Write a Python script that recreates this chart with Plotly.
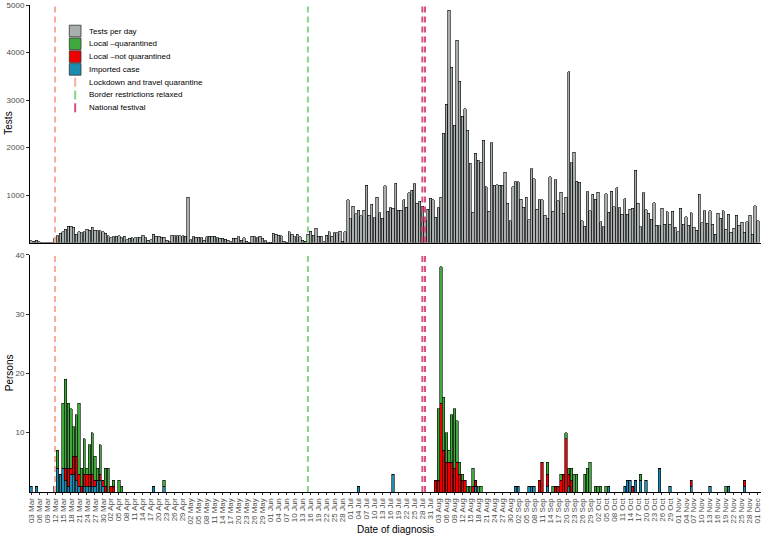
import plotly.graph_objects as go
import pandas as pd

# ---------------- data ----------------
START = "2020-03-03"
tests_per_day = [
    40, 25, 45, 15, 0, 0, 0, 0, 0, 100,
    137, 193, 228, 277, 347, 340, 318, 172, 228, 207,
    228, 277, 263, 318, 263, 250, 243, 228, 200, 143,
    101, 122, 136, 143, 101, 136, 60, 90, 101, 101,
    101, 108, 157, 101, 46, 60, 170, 136, 136, 108,
    108, 52, 20, 157, 143, 143, 143, 143, 130, 950,
    60, 122, 108, 108, 101, 52, 122, 136, 130, 136,
    101, 87, 87, 73, 45, 17, 87, 87, 122, 52,
    101, 31, 10, 136, 122, 101, 136, 87, 38, 5,
    5, 193, 172, 157, 143, 31, 10, 228, 172, 122,
    172, 122, 52, 31, 170, 240, 157, 298, 136, 136,
    20, 157, 228, 136, 207, 207, 240, 31, 228, 895,
    495, 768, 610, 684, 560, 684, 1210, 578, 810, 523,
    950, 627, 510, 1196, 663, 733, 719, 1245, 684, 684,
    895, 741, 1048, 1105, 1238, 825, 867, 768, 474, 699,
    930, 895, 530, 733, 958, 2298, 2909, 4894, 3688, 2473,
    4263, 3400, 2663, 2817, 2368, 1667, 636, 1877, 1730, 1688,
    2151, 1175, 663, 2101, 1210, 1215, 1210, 1210, 1477, 825,
    459, 1175, 1280, 1280, 909, 741, 951, 474, 1554, 1337,
    699, 895, 895, 579, 509, 1386, 663, 1316, 880, 1056,
    614, 951, 3596, 1680, 1898, 1294, 1266, 460, 347, 1070,
    670, 1014, 909, 1063, 439, 333, 1028, 635, 1084, 754,
    1155, 733, 593, 923, 600, 705, 719, 1519, 825, 333,
    1049, 691, 614, 488, 838, 361, 354, 719, 382, 649,
    382, 656, 319, 228, 719, 382, 544, 368, 628, 319,
    263, 1021, 418, 670, 403, 670, 389, 172, 614, 509,
    670, 277, 600, 221, 298, 579, 368, 425, 214, 439,
    579, 179, 775, 460,
]

imported_case = {
    "2020-03-03": 1, "2020-03-05": 1, "2020-03-12": 1, "2020-03-13": 4,
    "2020-03-14": 3, "2020-03-15": 4, "2020-03-16": 2, "2020-03-17": 1,
    "2020-03-18": 3, "2020-03-19": 3, "2020-03-20": 2, "2020-03-21": 1,
    "2020-03-23": 1, "2020-03-24": 1, "2020-03-25": 1, "2020-03-26": 1,
    "2020-03-27": 1, "2020-03-28": 2, "2020-03-29": 2, "2020-03-30": 1,
    "2020-04-18": 1, "2020-04-22": 1, "2020-07-04": 1, "2020-07-17": 3,
    "2020-08-17": 1, "2020-09-01": 1, "2020-09-02": 1, "2020-09-06": 1,
    "2020-09-07": 1, "2020-09-08": 1, "2020-09-13": 1, "2020-09-21": 1,
    "2020-10-06": 1, "2020-10-12": 1, "2020-10-13": 2, "2020-10-14": 2,
    "2020-10-16": 2, "2020-10-18": 2, "2020-10-20": 2, "2020-10-25": 4,
    "2020-10-29": 1, "2020-11-06": 1, "2020-11-13": 1, "2020-11-20": 1,
    "2020-11-26": 1,
}
local_not_quarantined = {
    "2020-03-16": 2, "2020-03-17": 3, "2020-03-18": 1, "2020-03-19": 3,
    "2020-03-20": 4, "2020-03-21": 2, "2020-03-22": 1, "2020-03-23": 2,
    "2020-03-24": 2, "2020-03-25": 2, "2020-03-26": 2, "2020-03-27": 1,
    "2020-03-29": 1, "2020-03-30": 1, "2020-03-31": 1, "2020-04-02": 1,
    "2020-04-03": 1, "2020-08-02": 2, "2020-08-03": 2, "2020-08-04": 15,
    "2020-08-05": 7, "2020-08-06": 5, "2020-08-07": 5, "2020-08-08": 5,
    "2020-08-09": 4, "2020-08-10": 5, "2020-08-11": 3, "2020-08-12": 2,
    "2020-08-13": 2, "2020-08-16": 1, "2020-08-17": 1, "2020-09-10": 2,
    "2020-09-11": 5, "2020-09-13": 2, "2020-09-16": 1, "2020-09-17": 1,
    "2020-09-18": 2, "2020-09-19": 3, "2020-09-20": 9, "2020-09-21": 2,
    "2020-09-22": 2, "2020-10-15": 1, "2020-11-06": 1, "2020-11-26": 1,
}
local_quarantined = {
    "2020-03-13": 3, "2020-03-15": 11, "2020-03-16": 15, "2020-03-17": 11,
    "2020-03-18": 10, "2020-03-19": 5, "2020-03-20": 7, "2020-03-21": 12,
    "2020-03-22": 3, "2020-03-23": 6, "2020-03-24": 1, "2020-03-25": 5,
    "2020-03-26": 7, "2020-03-27": 4, "2020-03-28": 2, "2020-03-29": 5,
    "2020-03-31": 3, "2020-04-01": 4, "2020-04-03": 1, "2020-04-05": 2,
    "2020-04-06": 1, "2020-04-22": 1, "2020-08-03": 12, "2020-08-04": 23,
    "2020-08-05": 9, "2020-08-06": 5, "2020-08-07": 2, "2020-08-08": 8,
    "2020-08-09": 10, "2020-08-10": 7, "2020-08-11": 2, "2020-08-12": 1,
    "2020-08-14": 1, "2020-08-15": 1, "2020-08-16": 3, "2020-08-18": 1,
    "2020-08-19": 1, "2020-09-13": 2, "2020-09-15": 1, "2020-09-18": 1,
    "2020-09-20": 1, "2020-09-21": 1, "2020-09-22": 2, "2020-09-23": 3,
    "2020-09-24": 3, "2020-09-27": 3, "2020-09-28": 4, "2020-09-29": 5,
    "2020-10-01": 1, "2020-10-02": 1, "2020-10-03": 1, "2020-10-05": 1,
    "2020-10-18": 1, "2020-11-19": 1,
}

events = {
    "Lockdown and travel quarantine": ["2020-03-12"],
    "Border restrictions relaxed": ["2020-06-15"],
    "National festival": ["2020-07-28", "2020-07-29"],
}
tests_ticks = [1000, 2000, 3000, 4000, 5000]
persons_ticks = [10, 20, 30, 40]

# ---------------- styling ----------------
W, H = 763, 540
ML, MR, MT, MB = 30, 2, 5, 48
PW, PH = W - ML - MR, H - MT - MB
FONT = "Liberation Sans, Arial, sans-serif"
GREY_TXT = "#4D4D4D"

C_TEST = "#A9AEAE"
C_QUAR = "#3FAA3B"
C_NOTQ = "#EE0000"
C_IMP = "#1C8DB2"
EVENT_COL = {
    "Lockdown and travel quarantine": "#F6AE99",
    "Border restrictions relaxed": "#86D486",
    "National festival": "#D5527A",
}

dates = pd.date_range(START, periods=len(tests_per_day), freq="D")
def expand(d):
    return [d.get(x.strftime("%Y-%m-%d"), 0) for x in dates]

def px_x(px):
    return (px - ML) / PW

def px_y(py):
    return (H - MB - py) / PH

fig = go.Figure()
outline = dict(color="black", width=0.6)
fig.add_trace(go.Bar(x=dates, y=tests_per_day, marker=dict(color=C_TEST, line=outline),
                     xaxis="x", yaxis="y", name="Tests per day", showlegend=False))
for name, series, col in [("Imported case", imported_case, C_IMP),
                          ("Local –not quarantined", local_not_quarantined, C_NOTQ),
                          ("Local –quarantined", local_quarantined, C_QUAR)]:
    fig.add_trace(go.Bar(x=dates, y=expand(series), marker=dict(color=col, line=outline),
                         xaxis="x2", yaxis="y2", name=name, showlegend=False))

start = pd.Timestamp(START)
xr = [start - pd.Timedelta(hours=0.39 * 24), start + pd.Timedelta(hours=274.2 * 24)]

top_bottom = px_y(242.5)
bot_top = px_y(254.7)

axis_common = dict(showline=True, linecolor="black", linewidth=1, showgrid=False, zeroline=False,
                   automargin=False,
                   tickfont=dict(family=FONT, size=8, color=GREY_TXT), tickcolor="#333333")
fig.update_layout(
    width=W, height=H, margin=dict(l=ML, r=MR, t=MT, b=MB, autoexpand=False),
    paper_bgcolor="white", plot_bgcolor="white",
    barmode="stack", bargap=0.1, showlegend=False,
    font=dict(family=FONT),
    xaxis=dict(axis_common, domain=[0, 1], anchor="y", range=xr, matches="x2",
               showticklabels=False, ticks=""),
    yaxis=dict(axis_common, domain=[top_bottom, 1], anchor="x", range=[0, 5000],
               tickvals=tests_ticks, ticks="outside", ticklen=3),
    xaxis2=dict(axis_common, domain=[0, 1], anchor="y2", range=xr, type="date",
                tick0=START, dtick=3 * 86400000, tickformat="%d %b", tickangle=-90,
                ticks="outside", ticklen=2),
    yaxis2=dict(axis_common, domain=[0, bot_top], anchor="x2", range=[0, 40],
                tickvals=persons_ticks, ticks="outside", ticklen=3),
)

shapes = []
for name, ds in events.items():
    for d in ds:
        for xref, yref in [("x", "y domain"), ("x2", "y2 domain")]:
            shapes.append(dict(type="line", xref=xref, yref=yref, x0=d, x1=d, y0=0, y1=1,
                               line=dict(color=EVENT_COL[name], width=2, dash="6px,4px"),
                               layer="above"))

# manual legend
legend_items = [("Tests per day", "box", C_TEST), ("Local –quarantined", "box", C_QUAR),
                ("Local –not quarantined", "box", C_NOTQ), ("Imported case", "box", C_IMP)]
legend_items += [(n, "line", EVENT_COL[n]) for n in events]
annotations = []
for i, (label, kind, col) in enumerate(legend_items):
    cy = 31.0 + 12.8 * i
    if kind == "box":
        shapes.append(dict(type="rect", xref="paper", yref="paper",
                           x0=px_x(69.3), x1=px_x(81), y0=px_y(cy + 5.8), y1=px_y(cy - 5.8),
                           fillcolor=col, line=dict(color="#333333", width=0.8)))
    else:
        shapes.append(dict(type="line", xref="paper", yref="paper",
                           x0=px_x(75.2), x1=px_x(75.2), y0=px_y(cy + 4.5), y1=px_y(cy - 4.5),
                           line=dict(color=col, width=2)))
    annotations.append(dict(xref="paper", yref="paper", x=px_x(87), y=px_y(cy), text=label,
                            showarrow=False, xanchor="left", yanchor="middle",
                            font=dict(family=FONT, size=8, color="black")))

title_font = dict(family=FONT, size=10, color="black")
annotations += [
    dict(xref="paper", yref="paper", x=px_x(9), y=px_y(123.7), text="Tests", textangle=-90,
         showarrow=False, xanchor="center", yanchor="middle", font=title_font),
    dict(xref="paper", yref="paper", x=px_x(9), y=px_y(373.2), text="Persons", textangle=-90,
         showarrow=False, xanchor="center", yanchor="middle", font=title_font),
    dict(xref="paper", yref="paper", x=px_x(395.5), y=px_y(529.5), text="Date of diagnosis",
         showarrow=False, xanchor="center", yanchor="middle", font=title_font),
]
fig.update_layout(shapes=shapes, annotations=annotations)

fig.write_html("out.html", config={"displayModeBar": False},
               post_script="document.body.style.margin='0px';")
